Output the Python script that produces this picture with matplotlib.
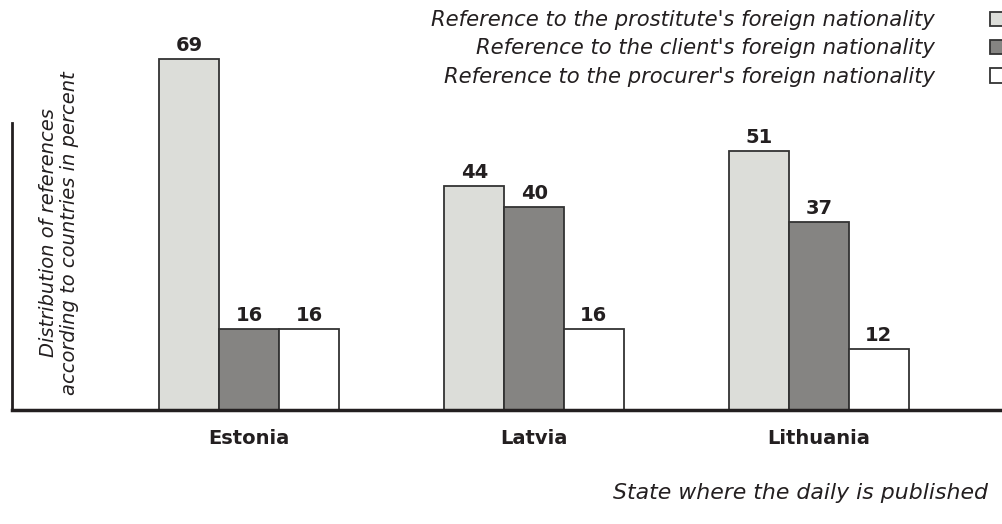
import matplotlib
matplotlib.use("Agg")
import matplotlib.pyplot as plt
import numpy as np

countries = ["Estonia", "Latvia", "Lithuania"]
series_names = [
    "Reference to the prostitute's foreign nationality",
    "Reference to the client's foreign nationality",
    "Reference to the procurer's foreign nationality",
]
prostitute = [69, 44, 51]
client = [16, 40, 37]
procurer = [16, 16, 12]
values = [prostitute, client, procurer]
colors = ["#dcddd9", "#858482", "#ffffff"]

plt.rcParams['font.family'] = ['DejaVu Sans']
W, H = 1002, 524
fig = plt.figure(figsize=(W / 100, H / 100), dpi=100)
base_px = 410
ax = fig.add_axes([12 / W, (H - base_px) / H, 1 - 12 / W, base_px / H])

x = np.arange(len(countries))
width = 0.21
ink = "#231f20"
handles = []
for i, (vals, col) in enumerate(zip(values, colors)):
    bars = ax.bar(x + (i - 1) * width, vals, width, color=col, edgecolor="#333333",
                  linewidth=1.3, label=series_names[i], zorder=2)
    handles.append(bars)
    for b, v in zip(bars, vals):
        ax.annotate(str(v), (b.get_x() + b.get_width() / 2, v), xytext=(0, 3),
                    textcoords="offset points", ha="center", va="bottom",
                    fontsize=14, fontweight="bold", color=ink)

ax.set_xlim(-0.832, 2.642)
ax.set_ylim(0, 80.7)
ax.set_yticks([])
ax.set_xticks(x)
ax.set_xticklabels(countries, fontsize=14, fontweight="bold", color=ink)
ax.tick_params(axis="x", length=0, pad=14)
for s in ["top", "right"]:
    ax.spines[s].set_visible(False)
ax.spines["left"].set_bounds(0, 56.5)
ax.spines["left"].set_linewidth(2)
ax.spines["left"].set_color(ink)
ax.spines["bottom"].set_linewidth(2.5)
ax.spines["bottom"].set_color(ink)

fig.text(988 / W, 1 - 493 / H, "State where the daily is published", ha="right", va="center",
         fontsize=15.8, style="italic", color=ink)
fig.text(59 / W, 1 - 233 / H, "Distribution of references\naccording to countries in percent",
         rotation=90, ha="center", va="center", fontsize=14, style="italic", color=ink,
         linespacing=1.15)

leg = fig.legend(handles=handles, labels=series_names, loc="upper right",
                 bbox_to_anchor=(1004 / W, 1 - 10 / H), frameon=False, markerfirst=False,
                 fontsize=15.2, handlelength=0.67, handleheight=0.65, handletextpad=2.6,
                 labelspacing=0.4, borderaxespad=0, borderpad=0)
for t in leg.get_texts():
    t.set_fontstyle("italic")
    t.set_color(ink)

fig.savefig("out.png", dpi=100)
